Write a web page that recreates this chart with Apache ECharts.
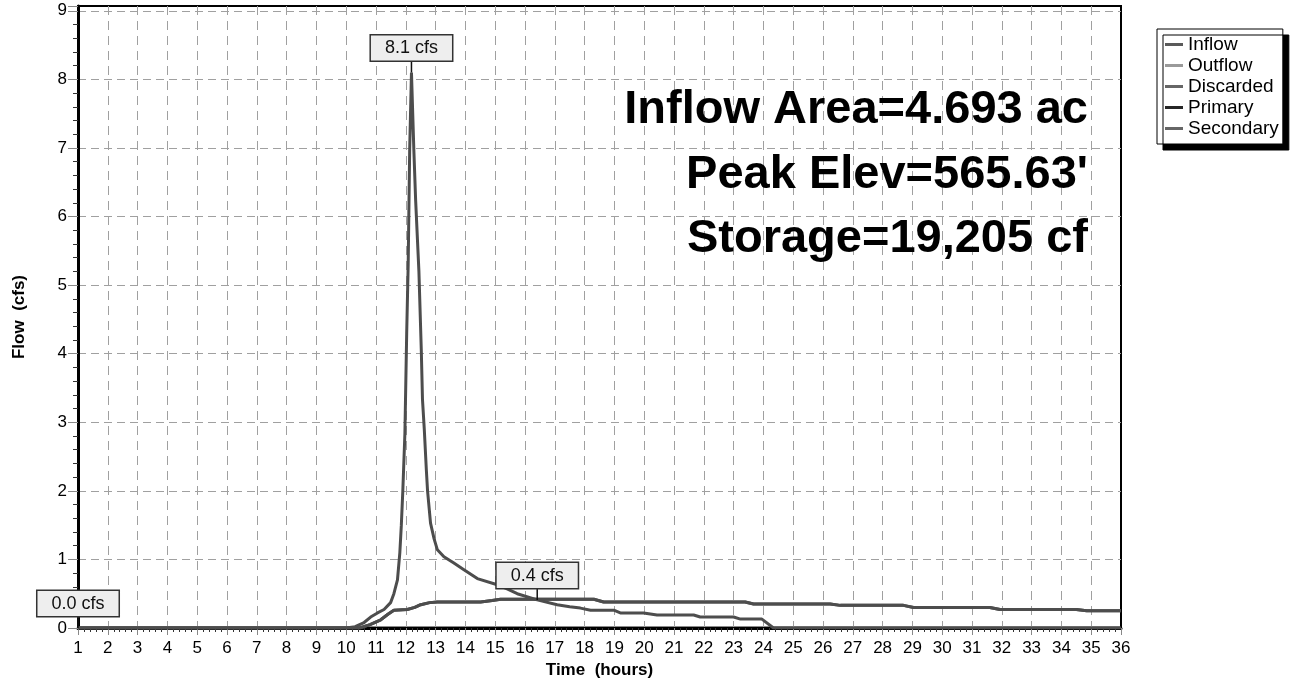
<!DOCTYPE html>
<html>
<head>
<meta charset="utf-8">
<script src="https://cdn.jsdelivr.net/npm/echarts@6/dist/echarts.min.js"></script>
<style>
  html, body { margin: 0; padding: 0; background: #fff; }
  #chart { width: 1294px; height: 686px; }
</style>
</head>
<body>
<div id="chart"></div>
<script>
// hydrograph values (hours, cfs)
const inflowTime = [1, 10.0, 10.3, 10.6, 10.82, 11.05, 11.27, 11.49, 11.6, 11.72, 11.8, 11.85, 11.9, 11.97, 12.03,
  12.08, 12.13, 12.19, 12.27, 12.33, 12.44, 12.52, 12.56, 12.62, 12.69, 12.73, 12.83, 12.95, 13.06, 13.28,
  13.6, 13.95, 14.4, 15.07, 15.4, 15.74, 16.41, 17.08, 17.5, 17.86, 18.2, 18.98, 19.2, 19.98, 20.43,
  21.66, 21.88, 23.0, 23.23, 23.95, 24.34, 36];
const inflowFlow = [0, 0, 0.02, 0.08, 0.16, 0.22, 0.27, 0.37, 0.5, 0.7, 1.1, 1.5, 2.0, 2.84, 4.3,
  5.3, 6.97, 8.1, 6.97, 6.24, 5.2, 4.05, 3.33, 2.9, 2.3, 2.0, 1.53, 1.3, 1.14, 1.04,
  0.95, 0.85, 0.72, 0.63, 0.57, 0.5, 0.41, 0.34, 0.31, 0.29, 0.26, 0.26, 0.22, 0.22, 0.19,
  0.19, 0.16, 0.16, 0.13, 0.13, 0, 0];

const outflowTime = [1, 10.45, 10.8, 11.16, 11.4, 11.6, 12.05, 12.3, 12.5, 12.8, 13.06, 14.51, 14.9, 15.18,
  18.31, 18.64, 23.39, 23.67, 26.24, 26.58, 28.7, 29.04, 31.6, 31.94, 34.5, 34.85, 36];
const outflowFlow = [0, 0, 0.05, 0.12, 0.2, 0.26, 0.27, 0.3, 0.34, 0.37, 0.38, 0.38, 0.4, 0.42,
  0.42, 0.38, 0.38, 0.35, 0.35, 0.33, 0.33, 0.3, 0.3, 0.27, 0.27, 0.25, 0.25];

const zeroTime = [1, 36];
const zeroFlow = [0, 0];

const seriesNames = ['Inflow', 'Outflow', 'Discarded', 'Primary', 'Secondary'];
const legendColors = ['#5a5a5a', '#9a9a9a', '#666666', '#262626', '#666666'];

// peak call-outs
const peakText = ['8.1 cfs', '0.4 cfs', '0.0 cfs'];
const peakTime = [12.19, 16.41, 1];
const peakFlow = [8.1, 0.41, 0];

const statLines = ['Inflow Area=4.693 ac', "Peak Elev=565.63'", 'Storage=19,205 cf'];

const FONT = "'Liberation Sans', Arial, sans-serif";

function pairs(xs, ys) {
  return xs.map((x, i) => [x, ys[i]]);
}

function callout(i) {
  return {
    symbol: 'rect',
    symbolSize: [1.5, 12],
    symbolOffset: [0, -6],
    silent: true,
    itemStyle: { color: '#111' },
    data: [{ coord: [peakTime[i], peakFlow[i]] }],
    label: {
      show: true,
      position: 'top',
      distance: 0,
      formatter: peakText[i],
      fontFamily: FONT,
      fontSize: 18,
      color: '#111',
      backgroundColor: '#eeeeee',
      borderColor: '#333',
      borderWidth: 1.5,
      padding: [4, 14, 3, 14]
    }
  };
}

const chart = echarts.init(document.getElementById('chart'));

const option = {
  animation: false,
  textStyle: { fontFamily: FONT },
  grid: {
    left: 78, right: 173, top: 6, bottom: 58,
    show: true, borderColor: '#000', borderWidth: 2
  },
  legend: {
    orient: 'vertical',
    left: 1157, top: 29,
    icon: 'rect',
    itemWidth: 18, itemHeight: 3,
    itemGap: 2, itemTextGap: 9,
    padding: [6, 4, 6, 8],
    backgroundColor: '#fff',
    borderColor: '#000', borderWidth: 1,
    shadowColor: '#000', shadowBlur: 0, shadowOffsetX: 6, shadowOffsetY: 6,
    textStyle: { fontFamily: FONT, fontSize: 19, color: '#000' },
    selectedMode: false,
    data: seriesNames.map((n, i) => ({ name: n, itemStyle: { color: legendColors[i] } }))
  },
  xAxis: {
    type: 'value',
    min: 1, max: 36, interval: 1,
    name: 'Time  (hours)',
    nameLocation: 'middle', nameGap: 34,
    nameTextStyle: { fontFamily: FONT, fontSize: 17, fontWeight: 'bold', color: '#000' },
    axisLine: { onZero: false, lineStyle: { color: '#000', width: 3 } },
    axisTick: { length: 7, lineStyle: { color: '#888' } },
    minorTick: { show: true, splitNumber: 5, length: 4, lineStyle: { color: '#333' } },
    axisLabel: { fontFamily: FONT, fontSize: 17, color: '#000', margin: 12 },
    splitLine: { showMaxLine: false, lineStyle: { color: '#a0a0a0', type: [9, 6], width: 1 } }
  },
  yAxis: {
    type: 'value',
    min: 0, max: 9.07, interval: 1,
    name: 'Flow  (cfs)',
    nameLocation: 'middle', nameGap: 50, nameRotate: 90,
    nameTextStyle: { fontFamily: FONT, fontSize: 17, fontWeight: 'bold', color: '#000' },
    axisLine: { show: true, lineStyle: { color: '#000', width: 3 } },
    axisTick: { length: 10, lineStyle: { color: '#888' } },
    minorTick: { show: true, splitNumber: 5, length: 5, lineStyle: { color: '#333' } },
    axisLabel: { fontFamily: FONT, fontSize: 17, color: '#000', margin: 11, showMaxLabel: false },
    splitLine: { showMaxLine: false, lineStyle: { color: '#a0a0a0', type: [8, 5], width: 1 } }
  },
  graphic: statLines.map((t, i) => ({
    type: 'text',
    right: 206,
    top: 87 + i * 64.5,
    z: 10,
    style: {
      text: t,
      fill: '#000',
      font: 'bold 47px ' + FONT
    }
  })),
  series: [
    {
      name: 'Discarded', type: 'line', z: -1, symbol: 'none',
      itemStyle: { color: legendColors[2] },
      lineStyle: { color: '#666', width: 3 },
      data: pairs(zeroTime, zeroFlow),
      markPoint: callout(2)
    },
    {
      name: 'Secondary', type: 'line', z: -1, symbol: 'none',
      itemStyle: { color: legendColors[4] },
      lineStyle: { color: '#666', width: 3 },
      data: pairs(zeroTime, zeroFlow)
    },
    {
      name: 'Primary', type: 'line', z: 1, symbol: 'none',
      itemStyle: { color: legendColors[3] },
      lineStyle: { color: '#4d4d4d', width: 3 },
      data: pairs(outflowTime, outflowFlow)
    },
    {
      name: 'Outflow', type: 'line', z: 2, symbol: 'none',
      itemStyle: { color: legendColors[1] },
      lineStyle: { color: '#4d4d4d', width: 3 },
      data: pairs(outflowTime, outflowFlow),
      markPoint: callout(1)
    },
    {
      name: 'Inflow', type: 'line', z: 3, symbol: 'none',
      itemStyle: { color: legendColors[0] },
      lineStyle: { color: '#4d4d4d', width: 3 },
      data: pairs(inflowTime, inflowFlow),
      markPoint: callout(0)
    }
  ]
};

chart.setOption(option);
</script>
</body>
</html>
